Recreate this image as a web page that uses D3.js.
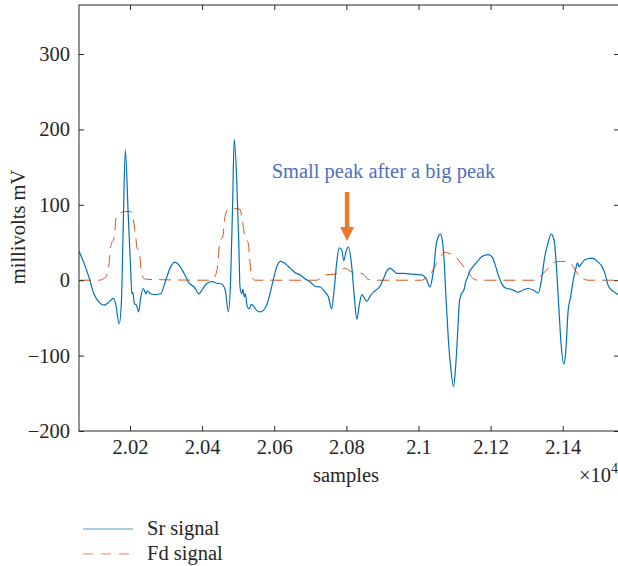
<!DOCTYPE html>
<html><head><meta charset="utf-8">
<script src="https://cdn.jsdelivr.net/npm/d3@7"></script>
<style>
body{margin:0;background:#fff}
svg{display:block}
text{font-family:"Liberation Serif","DejaVu Serif",serif}
</style>
</head><body>
<svg id="c" width="618" height="566"></svg>
<script>
// ---- data ----
const srSamples = [20059,20073,20086,20100,20114,20128,20142,20154,20160,20170,20176,20181,20187,20195,20202,20205,20208,20212,20218,20224,20230,20237,20244,20248,20257,20269,20285,20299,20313,20324,20336,20350,20364,20378,20391,20401,20414,20428,20441,20454,20464,20473,20479,20485,20489,20496,20502,20505,20510,20513,20517,20520,20525,20531,20536,20542,20551,20561,20570,20579,20588,20598,20607,20618,20630,20644,20658,20672,20685,20699,20713,20727,20741,20750,20759,20766,20773,20780,20787,20793,20799,20806,20815,20822,20829,20835,20843,20849,20857,20866,20880,20893,20903,20912,20921,20930,20940,20958,20981,21009,21021,21032,21038,21044,21048,21053,21061,21066,21071,21076,21083,21090,21097,21103,21109,21113,21118,21122,21126,21131,21136,21140,21148,21162,21175,21193,21204,21213,21221,21230,21244,21257,21267,21276,21290,21304,21318,21332,21341,21350,21359,21368,21376,21382,21389,21396,21403,21408,21415,21422,21429,21435,21441,21445,21452,21461,21475,21484,21498,21509,21517,21526,21535,21544,21553];
const srValues = [38,22,4,-18,-29,-33,-29,-24,-31,-58,-31,66,173,88,13,-18,-16,-31,-33,-42,-22,-11,-18,-14,-18,-19,-18,0,18,24,20,9,-4,-9,-18,-12,-4,-2,-4,-5,-13,-42,0,110,187,133,44,-9,-18,-12,-22,-18,-35,-38,-32,-34,-40,-42,-40,-33,-18,2,18,25,22,16,10,7,2,-2,-8,-9,-16,-22,-38,-13,22,43,40,26,38,44,18,-22,-52,-35,-19,-23,-28,-21,-14,-8,2,12,16,13,9,9,8,7,2,-9,2,22,44,55,61,53,27,-22,-80,-119,-141,-115,-66,-31,-19,-16,-13,-2,4,10,16,24,31,34,31,20,7,-4,-11,-12,-14,-16,-13,-11,-13,-17,0,31,49,61,53,22,-35,-88,-111,-97,-40,-22,0,13,23,18,22,27,29,29,24,18,9,-7,-13,-16,-19];

const fdSamples = [20059,20114,20133,20142,20147,20156,20162,20170,20188,20202,20208,20216,20220,20225,20231,20239,20253,20422,20431,20441,20450,20457,20464,20473,20487,20505,20510,20519,20528,20533,20538,20547,20718,20732,20741,20769,20782,20796,20815,20833,20847,20861,20875,21009,21023,21037,21050,21064,21074,21088,21101,21115,21129,21140,21152,21166,21322,21336,21350,21364,21380,21396,21415,21429,21443,21456,21470,21553];
const fdValues = [0,0,4,22,46,57,84,88,91,91,84,57,42,40,13,2,1,0,2,13,53,57,86,94,95,94,84,57,49,22,4,0,0,4,7,8,13,16,11,10,8,1,0,0,4,11,22,33,37,35,32,24,16,9,2,0,0,4,11,18,24,25,24,18,7,2,0,0];

const xTicks = [20200,20400,20600,20800,21000,21200,21400];
const xTickLabels = ["2.02","2.04","2.06","2.08","2.1","2.12","2.14"];
const yTicks = [-200,-100,0,100,200,300];
const yTickLabels = ["\u2212200","\u2212100","0","100","200","300"];
const seriesNames = ["Sr signal","Fd signal"];
const annotationText = "Small peak after a big peak";
const annotationSample = 20802, annotationTip = 52, annotationTail = 117;

// ---- layout ----
const L = 79, T = 5, R = 619, B = 431;
const svg = d3.select("#c");
const x = d3.scaleLinear().domain([20058.6, 21556]).range([L, R]);
const y = d3.scaleLinear().domain([-200, 365]).range([B, T]);
const axisColor = "#262626";
const fs = "20.5px";

svg.append("defs").append("clipPath").attr("id","clip")
  .append("rect").attr("x",L).attr("y",T).attr("width",R-L).attr("height",B-T);

const sr = srSamples.map((s,i)=>[s, srValues[i]]);
const fd = fdSamples.map((s,i)=>[s, fdValues[i]]);
const line = d3.line().x(d=>x(d[0])).y(d=>y(d[1])).curve(d3.curveMonotoneX);

const g = svg.append("g").attr("clip-path","url(#clip)");
g.append("path").datum(fd).attr("d",line).attr("fill","none")
  .attr("stroke","#D95319").attr("stroke-width",1).attr("stroke-dasharray","12,7");
g.append("path").datum(sr).attr("d",line).attr("fill","none")
  .attr("stroke","#0072BD").attr("stroke-width",1.2);

// axes
function styleAxis(sel){
  sel.select(".domain").remove();
  sel.selectAll(".tick line").attr("stroke",axisColor);
  sel.selectAll(".tick text").attr("fill",axisColor).style("font-size",fs)
    .style("font-family",'"Liberation Serif","DejaVu Serif",serif');
}
svg.append("g").attr("transform",`translate(0,${B})`)
  .call(d3.axisBottom(x).tickValues(xTicks).tickSize(-5).tickPadding(8).tickFormat((d,i)=>xTickLabels[i]))
  .call(styleAxis);
svg.append("g").attr("transform",`translate(0,${T})`)
  .call(d3.axisTop(x).tickValues(xTicks).tickSize(-5).tickFormat(""))
  .call(styleAxis);
svg.append("g").attr("transform",`translate(${L},0)`)
  .call(d3.axisLeft(y).tickValues(yTicks).tickSize(-5).tickPadding(9).tickFormat((d,i)=>yTickLabels[i]))
  .call(styleAxis);
svg.append("g").attr("transform",`translate(${R},0)`)
  .call(d3.axisRight(y).tickValues(yTicks).tickSize(-5).tickFormat(""))
  .call(styleAxis);

svg.append("rect").attr("x",L).attr("y",T).attr("width",R-L).attr("height",B-T)
  .attr("fill","none").attr("stroke",axisColor).attr("stroke-width",1);

// axis labels
svg.append("text").attr("x",346).attr("y",482).attr("text-anchor","middle")
  .attr("fill",axisColor).style("font-size",fs).text("samples");
svg.append("text").attr("transform","translate(25,227) rotate(-90)").attr("text-anchor","middle")
  .attr("fill",axisColor).style("font-size",fs).text("millivolts mV");
const ex = svg.append("text").attr("x",611).attr("y",482).attr("text-anchor","end")
  .attr("fill",axisColor).style("font-size",fs).text("\u00d710");
svg.append("text").attr("x",611).attr("y",473).attr("fill",axisColor).style("font-size","14px").text("4");

// annotation
const ax = x(annotationSample);
svg.append("text").attr("x",383.5).attr("y",178).attr("text-anchor","middle")
  .attr("fill","#4F6FBF").style("font-size",fs).text(annotationText);
const tipY = y(annotationTip), tailY = y(annotationTail);
svg.append("line").attr("x1",ax).attr("x2",ax).attr("y1",tailY).attr("y2",tipY-12)
  .attr("stroke","#E87B2F").attr("stroke-width",4.5);
svg.append("path").attr("d",`M${ax-7},${tipY-14}L${ax+7},${tipY-14}L${ax},${tipY}Z`).attr("fill","#E87B2F");

// legend
const leg = svg.append("g");
const legY = [529, 554];
const legStyle = [{c:"#0072BD",d:null},{c:"#D95319",d:"10,8"}];
seriesNames.forEach((n,i)=>{
  leg.append("line").attr("x1",83).attr("x2",133).attr("y1",legY[i]).attr("y2",legY[i])
    .attr("stroke",legStyle[i].c).attr("stroke-width",1).attr("stroke-dasharray",legStyle[i].d)
    .attr("opacity",0.7);
  leg.append("text").attr("x",147).attr("y",legY[i]+6).attr("fill",axisColor)
    .style("font-size",fs).text(n);
});
</script>
</body></html>
